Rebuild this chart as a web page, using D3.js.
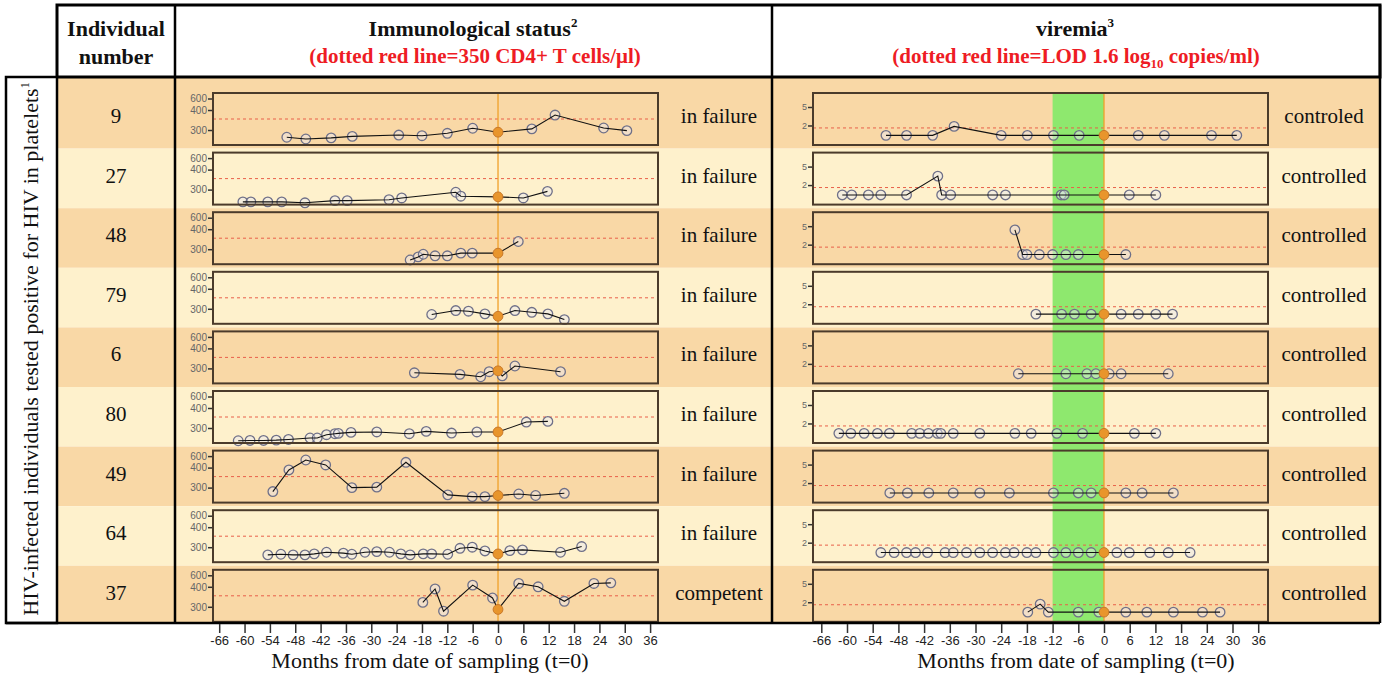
<!DOCTYPE html>
<html><head><meta charset="utf-8">
<script src="https://cdn.jsdelivr.net/npm/d3@7"></script>
<style>body{margin:0;background:#fff} svg{display:block}</style>
</head><body><svg id="c" width="1385" height="675"></svg>
<script>
const individuals = ["9","27","48","79","6","80","49","64","37"];
const immunoStatus = ["in failure","in failure","in failure","in failure","in failure","in failure","in failure","in failure","competent"];
const viremiaStatus = ["controled","controlled","controlled","controlled","controlled","controlled","controlled","controlled","controlled"];
const monthTicks = [-66,-60,-54,-48,-42,-36,-30,-24,-18,-12,-6,0,6,12,18,24,30,36];
const cd4Ticks = [300,400,600];
const vlTicks = [2,5];
const cd4Threshold = 350;
const vlLOD = 1.6;
const greenWindow = [-12,0];

const cd4Months = [
  [-50,-45.5,-39.5,-34.5,-23.5,-18,-12,-6,0,8,13.5,25,30.5],
  [-60.4,-58.5,-54.5,-51.2,-45.7,-38.6,-35.7,-25.8,-22.8,-10,-8.8,0,6,11.7],
  [-20.8,-18.9,-17.7,-14.9,-12,-8.8,-6.1,0,4.8],
  [-15.7,-10,-7,-3.1,0,4,8,11.8,15.7],
  [-19.8,-9,-4.1,-2.1,0,1,4,14.8],
  [-61.5,-58.7,-55.5,-52.5,-49.6,-44.5,-42.8,-40.6,-38.6,-37.8,-34.8,-28.7,-21,-17,-11,-5,0,6.7,11.8],
  [-53.3,-49.5,-45.5,-40.8,-34.6,-28.7,-21.8,-11.9,-6.1,-3.1,0,4.9,8.9,15.7],
  [-54.5,-51.4,-48.5,-45.7,-43.5,-40.6,-36.6,-34.6,-31.5,-28.7,-25.7,-23,-20.8,-17.7,-15.7,-11.9,-9,-6.1,-3.1,0,2.8,5.8,14.8,19.8],
  [-17.8,-14.9,-12.9,-6,-1.3,0,4.9,9.5,15.7,22.7,26.7]
];
const cd4Values = [
  [267,259,264,271,277,274,285,308,290,305,372,309,297],
  [244,244,244,244,240,250,250,254,262,288,270,267,262,292],
  [251,265,277,270,270,282,282,282,335],
  [274,292,289,277,266,292,284,277,251],
  [280,273,262,285,289,266,311,285],
  [242,243.5,243.5,245,248,254.5,254.5,269.5,274,275.5,280,282,274,284.5,277,282,282,327,330],
  [282,387,532,446,300,302,492,267,259,259,264,271,264,274],
  [265,268,265,265,269.5,277,273,268,277,280,277,269.5,265,269.5,269.5,268,295,300,283,269.5,284.5,288,277,303],
  [320,388,280,429,340,288,458,400,325,458,469]
];
const vlMonths = [
  [-50.9,-46.1,-40,-35,-24,-17.9,-11.8,-5.8,0,8,14.1,25.1,31],
  [-61.1,-58.9,-55,-52.1,-46.1,-38.8,-37.9,-35.8,-26,-23,-10,-9.3,0,5.9,12.1],
  [-20.8,-19,-18,-15.1,-12,-8.9,-6,0,5.1],
  [-15.9,-9.9,-6.9,-3,0,4,8,12.1,16],
  [-20,-8.9,-4,-1.9,0,1.2,4,15],
  [-61.9,-59.1,-56,-52.9,-50.1,-44.9,-43,-41,-38.9,-38.1,-35.2,-29,-20.8,-17,-11,-5,0,7.1,12.1],
  [-50,-45.9,-40.9,-35.2,-29,-22.1,-11.8,-6,-3,0,5.1,8.9,16.2],
  [-52.1,-49,-46.1,-44,-41.2,-37.1,-35.2,-32.1,-29,-26,-23,-21,-18,-15.9,-11.8,-8.9,-6,-3,0,3,5.9,10.7,15,20.1],
  [-17.8,-14.9,-13,-6,-1.2,0,5.1,10,16.2,23,27.1]
];
const vlValues = [
  [0.4,0.4,0.4,1.85,0.4,0.4,0.4,0.4,0.4,0.4,0.4,0.4,0.4],
  [0.4,0.4,0.4,0.4,0.4,3.45,0.4,0.4,0.4,0.4,0.4,0.4,0.4,0.4,0.4],
  [4.4,0.4,0.4,0.4,0.4,0.4,0.4,0.4,0.4],
  [0.4,0.4,0.4,0.4,0.4,0.4,0.4,0.4,0.4],
  [0.4,0.4,0.4,0.4,0.4,0.4,0.4,0.4],
  [0.4,0.4,0.4,0.4,0.4,0.4,0.4,0.4,0.4,0.4,0.4,0.4,0.4,0.4,0.4,0.4,0.4,0.4,0.4],
  [0.4,0.4,0.4,0.4,0.4,0.4,0.4,0.4,0.4,0.4,0.4,0.4,0.4],
  [0.4,0.4,0.4,0.4,0.4,0.4,0.4,0.4,0.4,0.4,0.4,0.4,0.4,0.4,0.4,0.4,0.4,0.4,0.4,0.4,0.4,0.4,0.4,0.4],
  [0.4,1.7,0.4,0.4,0.4,0.4,0.4,0.4,0.4,0.4,0.4]
];

const svg = d3.select("#c");
const SERIF = "'Liberation Serif','Times New Roman',serif";
const SANS = "'Liberation Sans',Arial,sans-serif";
const bandDark = "#f9d8a6", bandLight = "#fef1cc";
const tableTop = 5, headBottom = 77, tableBottom = 623, tableRight = 1380;
const colLab = [6,57], colNum = [57,175], colImm = [175,772], colVir = [772,1380];
const pTop0 = 93, pStep = 59.6, pH = 52;
const pTop = i => pTop0 + i*pStep;
const leftP = [213,658], rightP = [813,1268];

const xL = d3.scaleLinear().domain([-66,36]).range([219.2,650.1]);
const xR = d3.scaleLinear().domain([-66,36]).range([821.3,1258.2]);
const yC = d3.scaleLinear().domain([200,300,350,400,600]).range([59,37,26,17,5.5]);
const yV = d3.scaleLinear().domain([0,8]).range([44.8,-4.5]);

// bands
individuals.forEach((d,i)=>{
  const t = i===0 ? headBottom : pTop(i)-4;
  const b = i===8 ? tableBottom : pTop(i+1)-4;
  svg.append("rect").attr("x",colNum[0]).attr("y",t).attr("width",tableRight-colNum[0]).attr("height",b-t)
    .attr("fill", i%2===0 ? bandDark : bandLight);
});

// green window (continuous column)
svg.append("rect").attr("x",xR(greenWindow[0])).attr("y",pTop(0)).attr("width",xR(greenWindow[1])-xR(greenWindow[0]))
  .attr("height",pTop(8)+pH-pTop(0)).attr("fill","#8ee86e");

individuals.forEach((d,i)=>{
  const top = pTop(i);
  [[leftP,xL,"cd4"],[rightP,xR,"vl"]].forEach(([P,x,kind])=>{
    const g = svg.append("g").attr("transform",`translate(0,${top})`);
    const y = kind==="cd4" ? yC : yV;
    const thr = kind==="cd4" ? cd4Threshold : vlLOD;
    g.append("line").attr("x1",P[0]).attr("x2",P[1]).attr("y1",y(thr)).attr("y2",y(thr))
      .attr("stroke","#e8604a").attr("stroke-width",1).attr("stroke-dasharray","3,3");
    const ax = d3.axisLeft(y).tickValues(kind==="cd4"?cd4Ticks:vlTicks).tickSize(5).tickPadding(1);
    const ag = g.append("g").attr("transform",`translate(${P[0]},0)`).call(ax);
    ag.select(".domain").remove();
    ag.selectAll("line").attr("stroke","#333").attr("stroke-width",1.5);
    ag.selectAll("text").attr("font-family",SANS).attr("font-size",kind==="cd4"?10:9).attr("fill","#666");
  });
});

// orange vertical lines at t=0
[xL,xR].forEach(x=>{
  svg.append("line").attr("x1",x(0)).attr("x2",x(0)).attr("y1",pTop(0)).attr("y2",pTop(8)+pH)
    .attr("stroke","#f0a02a").attr("stroke-width",1.3);
});

// data marks
individuals.forEach((d,i)=>{
  const top = pTop(i);
  const sets = [[xL,yC,cd4Months[i],cd4Values[i]],[xR,yV,vlMonths[i],vlValues[i]]];
  sets.forEach(([x,y,ms,vs])=>{
    const g = svg.append("g").attr("transform",`translate(0,${top})`);
    const pts = ms.map((m,k)=>({m, v:vs[k]}));
    g.selectAll("circle.o").data(pts.filter(p=>p.m!==0)).join("circle").attr("class","o")
      .attr("cx",p=>x(p.m)).attr("cy",p=>y(p.v)).attr("r",4.8)
      .attr("fill","rgba(232,232,245,0.45)").attr("stroke","#6f7088").attr("stroke-width",1.3);
    g.append("path").datum(pts).attr("d",d3.line().x(p=>x(p.m)).y(p=>y(p.v)))
      .attr("fill","none").attr("stroke","#111").attr("stroke-width",1.1);
    g.selectAll("circle.z").data(pts.filter(p=>p.m===0)).join("circle").attr("class","z")
      .attr("cx",p=>x(p.m)).attr("cy",p=>y(p.v)).attr("r",4.9)
      .attr("fill","#e8952c").attr("stroke","#c8782a").attr("stroke-width",1);
  });
  [leftP,rightP].forEach(P=>{
    svg.append("rect").attr("x",P[0]).attr("y",top).attr("width",P[1]-P[0]).attr("height",pH)
      .attr("fill","none").attr("stroke","#4b3b2b").attr("stroke-width",2);
  });
  const base = top + pH/2 + 4;
  svg.append("text").attr("x",116).attr("y",base).attr("text-anchor","middle")
    .attr("font-family",SERIF).attr("font-size",21).attr("fill","#111").text(d);
  svg.append("text").attr("x",719).attr("y",base).attr("text-anchor","middle")
    .attr("font-family",SERIF).attr("font-size",21).attr("fill","#111").text(immunoStatus[i]);
  svg.append("text").attr("x",1324).attr("y",base).attr("text-anchor","middle")
    .attr("font-family",SERIF).attr("font-size",21).attr("fill","#111").text(viremiaStatus[i]);
});

// table borders
const B = "#000";
svg.append("rect").attr("x",colNum[0]).attr("y",tableTop).attr("width",tableRight-colNum[0]).attr("height",headBottom-tableTop)
  .attr("fill","none").attr("stroke",B).attr("stroke-width",3);
[colImm[0],colVir[0],tableRight].forEach(xx=>{
  svg.append("line").attr("x1",xx).attr("x2",xx).attr("y1",tableTop).attr("y2",tableBottom).attr("stroke",B).attr("stroke-width",2.5);
});
svg.append("rect").attr("x",colLab[0]).attr("y",headBottom).attr("width",colLab[1]-colLab[0]).attr("height",tableBottom-headBottom)
  .attr("fill","#fff").attr("stroke",B).attr("stroke-width",2.5);
svg.append("line").attr("x1",colLab[0]).attr("x2",tableRight).attr("y1",tableBottom).attr("y2",tableBottom).attr("stroke",B).attr("stroke-width",2.5);

// header text
function t(x,y,opts){
  return svg.append("text").attr("x",x).attr("y",y).attr("text-anchor","middle")
    .attr("font-family",SERIF).attr("font-size",opts.size||22).attr("font-weight",opts.bold?"bold":"normal")
    .attr("fill",opts.fill||"#111");
}
t(116,36,{bold:true}).text("Individual");
t(116,64,{bold:true}).text("number");
let h1 = t(473,36,{bold:true}); h1.append("tspan").text("Immunological status"); h1.append("tspan").attr("font-size",13).attr("dy",-9).text("2");
t(475,63,{bold:true,fill:"#ee1c24",size:21}).text("(dotted red line=350 CD4+ T cells/\u03bcl)");
let h2 = t(1075,36,{bold:true}); h2.append("tspan").text("viremia"); h2.append("tspan").attr("font-size",13).attr("dy",-9).text("3");
let h3 = t(1076,63,{bold:true,fill:"#ee1c24",size:21});
h3.append("tspan").text("(dotted red line=LOD 1.6 log");
h3.append("tspan").attr("font-size",13).attr("dy",5).text("10");
h3.append("tspan").attr("dy",-5).text(" copies/ml)");

// rotated label
const rl = svg.append("text").attr("transform","translate(38,349) rotate(-90)").attr("text-anchor","middle")
  .attr("font-family",SERIF).attr("font-size",22).attr("fill","#111");
rl.append("tspan").text("HIV-infected individuals tested positive for HIV in platelets");
rl.append("tspan").attr("font-size",12).attr("dy",-9).text("1");

// bottom axes
[[xL,430],[xR,1076]].forEach(([x,cx])=>{
  const ax = d3.axisBottom(x).tickValues(monthTicks).tickFormat(d=>String(d)).tickSize(9).tickPadding(3);
  const g = svg.append("g").attr("transform",`translate(0,${tableBottom+1})`).call(ax);
  g.select(".domain").remove();
  g.selectAll("line").attr("stroke","#333").attr("stroke-width",1.5);
  g.selectAll("text").attr("font-family",SANS).attr("font-size",13).attr("fill","#222");
  svg.append("text").attr("x",cx).attr("y",668).attr("text-anchor","middle")
    .attr("font-family",SERIF).attr("font-size",22).attr("fill","#111").text("Months from date of sampling (t=0)");
});
</script></body></html>
